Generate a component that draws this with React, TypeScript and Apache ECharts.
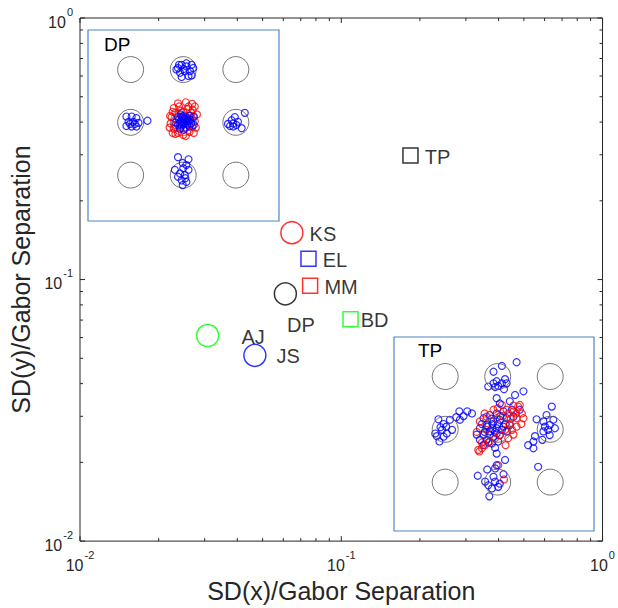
import React, { useEffect, useRef } from "react";
import * as echarts from "echarts";

// ---- main scatter data ----
const subjects = ["TP", "KS", "EL", "MM", "DP", "BD", "AJ", "JS"];
const sdX = [0.184, 0.0647, 0.0749, 0.076, 0.0611, 0.1085, 0.0308, 0.0467];
const sdY = [0.298, 0.151, 0.12, 0.0946, 0.0882, 0.0705, 0.0611, 0.0513];
const colors = ["#000000", "#ff0000", "#0000ff", "#ff0000", "#000000", "#00ff00", "#00ff00", "#0000ff"];
const shapes = ["rect", "circle", "rect", "rect", "circle", "rect", "circle", "circle"];

// axis ticks (log axis)
const majorTicks = [0.01, 0.1, 1];
const minorTicks = [0.02, 0.03, 0.04, 0.05, 0.06, 0.07, 0.08, 0.09, 0.2, 0.3, 0.4, 0.5, 0.6, 0.7, 0.8, 0.9];

// ---- inset reference grid (units of Gabor separation) ----
const gaborGrid = [
  [-1, 1], [0, 1], [1, 1],
  [-1, 0], [0, 0], [1, 0],
  [-1, -1], [0, -1], [1, -1],
];

// DP inset
const dpBlueTop = [
  [-0.1, 1.03], [-0.03, 1.09], [0.06, 1.06], [0.16, 1.09], [0.19, 1.03], [0.13, 0.97], [0.03, 0.97],
  [-0.06, 0.94], [-0.13, 1.0], [-0.03, 0.86], [0.1, 0.88], [0.16, 0.89], [0.01, 1.01], [-0.08, 1.09], [0.06, 1.12],
];
const dpBlueLeft = [
  [-1.08, 0.11], [-0.98, 0.11], [-0.89, 0.08], [-1.04, 0.01], [-0.95, 0.01], [-0.85, -0.01],
  [-1.08, -0.07], [-0.98, -0.08], [-0.89, -0.08], [-0.68, 0.03], [-1.01, -0.03], [-0.92, -0.03],
];
const dpBlueRight = [
  [0.85, -0.03], [0.92, 0.04], [0.98, 0.1], [1.01, -0.05], [0.89, -0.07], [0.95, -0.08], [1.04, 0.01],
  [1.17, 0.18], [1.11, -0.11], [0.95, -0.02],
];
const dpBlueBottom = [
  [-0.1, -0.66], [0.1, -0.7], [-0.01, -0.77], [0.06, -0.81], [-0.16, -0.9], [0.0, -0.87], [0.1, -0.9],
  [-0.06, -0.97], [0.03, -1.0], [-0.03, -1.1], [0.06, -1.13], [-0.01, -1.19], [-0.1, -1.03], [0.04, -1.06],
];
const dpRedCenter = [
  [-0.22, 0.1], [-0.15, 0.18], [-0.05, 0.22], [0.08, 0.25], [0.18, 0.24], [0.2, 0.12], [0.22, 0.02],
  [-0.24, -0.02], [-0.18, -0.12], [-0.1, -0.2], [0.0, -0.24], [0.12, -0.18], [0.17, -0.08], [-0.12, 0.05],
  [0.05, 0.1], [0.1, -0.05], [-0.05, -0.1], [-0.2, 0.2], [0.15, 0.18], [-0.15, -0.22],
  [-0.25, 0.12], [0.24, -0.1], [-0.18, 0.27], [0.1, 0.3], [0.26, 0.15], [-0.26, -0.1], [-0.2, -0.2],
  [0.05, -0.26], [0.2, -0.2], [0.22, 0.3], [-0.08, 0.3], [0.0, 0.2], [-0.15, -0.05], [0.12, 0.06],
  [-0.1, 0.36], [0.05, 0.38], [0.17, 0.35],
];
const dpBlueCenter = [
  [-0.08, 0.05], [0.02, 0.0], [0.06, 0.06], [-0.03, -0.06], [0.1, 0.02], [-0.1, -0.05], [0.0, 0.12],
  [0.05, -0.1], [0.12, 0.12], [-0.05, 0.15], [0.15, -0.02], [0.03, 0.04], [-0.02, 0.08], [0.08, -0.04],
  [0.2, 0.1], [0.2, -0.05], [-0.15, 0.0],
  [-0.05, 0.02], [0.04, -0.02], [0.0, -0.04], [-0.07, -0.02], [0.07, 0.03], [0.02, 0.07], [-0.03, 0.11],
  [0.09, 0.08], [-0.1, 0.1], [0.12, -0.08], [-0.06, -0.12], [0.01, -0.14], [0.14, 0.05],
];

// TP inset
const tpBlueTop = [
  [0.08, 1.2], [0.36, 1.27], [-0.08, 1.09], [0.14, 0.95], [-0.02, 0.91], [0.08, 0.87], [-0.08, 0.87],
  [0.17, 0.87], [-0.18, 0.81], [0.01, 0.82], [0.12, 0.76], [-0.05, 0.8], [0.49, 0.72], [0.33, 0.65],
  [-0.02, 0.59], [0.23, 0.53], [0.04, 0.49],
];
const tpBlueLeft = [
  [-1.13, 0.19], [-0.73, 0.34], [-0.58, 0.34], [-0.49, 0.3], [-0.65, 0.25], [-0.79, 0.23], [-0.91, 0.18],
  [-1.03, 0.1], [-1.09, 0.04], [-0.98, 0.05], [-0.87, -0.01], [-1.06, -0.01], [-0.97, -0.08], [-1.16, -0.13],
  [-1.03, -0.14], [-1.11, -0.23], [-1.19, -0.08], [-0.72, 0.18],
];
const tpBlueRight = [
  [1.03, 0.43], [0.93, 0.27], [1.06, 0.18], [0.87, 0.15], [0.99, 0.08], [0.9, 0.05], [1.09, 0.02],
  [0.96, -0.01], [0.87, -0.04], [0.99, -0.11], [0.85, -0.2], [0.71, -0.13], [0.68, -0.23], [0.58, -0.3],
  [0.68, -0.36], [0.77, -0.71], [0.74, 0.19],
];
const tpBlueBottom = [
  [-0.02, -0.46], [0.14, -0.58], [-0.02, -0.68], [-0.2, -0.76], [-0.38, -0.88], [-0.08, -0.9], [0.11, -0.85],
  [-0.24, -0.99], [-0.05, -0.99], [0.04, -1.03], [-0.18, -1.06], [0.01, -1.09], [-0.11, -1.12], [-0.16, -1.27],
  [-0.05, -0.74],
];
const tpRedCenter = [
  [-0.35, -0.42], [-0.3, -0.36], [-0.24, -0.3], [-0.15, -0.23], [-0.05, -0.17], [0.04, -0.11], [0.2, -0.17],
  [0.14, -0.01], [0.23, 0.11], [0.36, 0.21], [0.46, 0.3], [0.39, 0.43], [0.08, 0.46], [0.17, 0.37],
  [0.3, 0.34], [0.49, 0.21], [-0.08, 0.37], [-0.21, 0.24], [-0.34, 0.15], [0.27, -0.01], [0.01, -0.68],
  [0.12, -0.95], [-0.21, -0.01], [0.36, 0.05], [-0.02, 0.21],
  [0.42, 0.46], [0.3, 0.45], [0.2, 0.3], [0.35, 0.3], [0.25, 0.2], [0.1, 0.25], [-0.37, -0.39],
  [-0.3, -0.25], [-0.4, -0.05], [0.15, -0.3], [0.3, -0.1], [0.45, 0.1], [-0.25, 0.3], [0.0, 0.4],
];
const tpBlueCenter = [
  [-0.27, 0.21], [-0.15, 0.27], [-0.02, 0.3], [0.11, 0.34], [0.27, 0.37], [0.42, 0.37], [-0.34, 0.02],
  [-0.21, 0.08], [-0.08, 0.15], [0.04, 0.18], [0.17, 0.21], [0.3, 0.24], [-0.27, -0.11], [-0.15, -0.04],
  [-0.02, 0.02], [0.11, 0.05], [0.23, 0.08], [-0.21, -0.2], [-0.08, -0.14], [0.04, -0.11], [0.17, -0.04],
  [-0.27, -0.3], [-0.11, -0.27], [0.01, -0.23], [-0.34, -0.2], [-0.02, -0.08], [0.08, -0.01],
  [-0.2, 0.05], [-0.1, 0.1], [-0.15, -0.1], [-0.05, -0.05], [0.0, 0.1], [-0.25, -0.05], [-0.12, 0.2],
  [-0.3, 0.1], [0.05, 0.25], [-0.18, -0.25], [-0.05, -0.35], [-0.4, -0.1], [0.15, 0.1], [-0.1, 0.0],
];

const FONT = "Liberation Sans, Arial, Helvetica, sans-serif";
const AXIS_COLOR = "#262626";
const INSET_BORDER = "#4f86c6";

function labelDistance(name: string): number {
  if (name === "AJ") return 22;
  if (name === "JS") return 10;
  if (name === "BD") return 2;
  return 6;
}

export default function App() {
  const ref = useRef<HTMLDivElement>(null);

  useEffect(() => {
    document.body.style.margin = "0";
    if (!ref.current) return;
    const chart = echarts.init(ref.current, undefined, { renderer: "svg" });

    const mainData = subjects.map((name, i) => {
      const isDP = name === "DP";
      return {
        name,
        value: [sdX[i], sdY[i]],
        symbol: shapes[i],
        symbolSize: shapes[i] === "circle" ? 22 : 15,
        itemStyle: { color: "rgba(0,0,0,0)", borderColor: colors[i], borderWidth: 1.5 },
        label: {
          show: true,
          position: "right",
          distance: isDP ? 0 : labelDistance(name),
          offset: isDP ? [-10, 31] : [0, 1],
          formatter: name,
          color: "#000",
          fontSize: 20,
          fontFamily: FONT,
        },
      };
    });

    const tickData = [
      ...majorTicks.map((v) => [v, v, 1]),
      ...minorTicks.map((v) => [v, v, 0]),
    ];

    const logLabel = {
      formatter: (v: number) => {
        const e = Math.round(Math.log10(v));
        return `{b|10}{s|${e}}`;
      },
      rich: {
        b: { fontSize: 16, fontFamily: FONT, color: AXIS_COLOR, lineHeight: 24, verticalAlign: "bottom" },
        s: { fontSize: 11, fontFamily: FONT, color: AXIS_COLOR, lineHeight: 10, verticalAlign: "top", padding: [0, 0, 0, 1] },
      },
    };

    const circleStyle = { color: "rgba(0,0,0,0)", borderColor: "#555555", borderWidth: 1 };
    const pt = (color: string) => ({ color: "rgba(0,0,0,0)", borderColor: color, borderWidth: 1.2 });

    const insetSeries = (idx: number, groups: { data: number[][]; color: string }[], circlesOnTop: boolean) => {
      const s: any[] = [];
      s.push({
        type: "scatter",
        xAxisIndex: idx,
        yAxisIndex: idx,
        data: gaborGrid,
        symbol: "circle",
        symbolSize: 26,
        itemStyle: circleStyle,
        silent: true,
        z: circlesOnTop ? 5 : 2,
      });
      groups.forEach((g) =>
        s.push({
          type: "scatter",
          xAxisIndex: idx,
          yAxisIndex: idx,
          data: g.data,
          symbol: "circle",
          symbolSize: 7,
          itemStyle: pt(g.color),
          silent: true,
          z: 3,
        })
      );
      return s;
    };

    const option: any = {
      animation: false,
      backgroundColor: "#ffffff",
      textStyle: { fontFamily: FONT },
      grid: [
        { left: 80, top: 18, width: 526, height: 526, show: true, borderColor: AXIS_COLOR, borderWidth: 1, backgroundColor: "#fff" },
        { left: 88, top: 30, width: 191, height: 191, show: true, borderColor: INSET_BORDER, borderWidth: 1.2, backgroundColor: "#fff", z: 1 },
        { left: 394, top: 337, width: 200, height: 194, show: true, borderColor: INSET_BORDER, borderWidth: 1.2, backgroundColor: "#fff", z: 1 },
      ],
      xAxis: [
        {
          type: "log",
          logBase: 10,
          min: 0.01,
          max: 1,
          gridIndex: 0,
          axisLine: { show: false },
          axisTick: { show: false },
          splitLine: { show: false },
          axisLabel: { ...logLabel, margin: 8 },
          name: "SD(x)/Gabor Separation",
          nameLocation: "middle",
          nameGap: 34,
          nameTextStyle: { fontSize: 25, fontFamily: FONT, color: AXIS_COLOR },
        },
        { type: "value", gridIndex: 1, min: -1.81, max: 1.82, show: false },
        { type: "value", gridIndex: 2, min: -1.975, max: 1.834, show: false },
      ],
      yAxis: [
        {
          type: "log",
          logBase: 10,
          min: 0.01,
          max: 1,
          gridIndex: 0,
          axisLine: { show: false },
          axisTick: { show: false },
          splitLine: { show: false },
          axisLabel: { ...logLabel, margin: 7 },
          name: "SD(y)/Gabor Separation",
          nameLocation: "middle",
          nameGap: 41,
          nameTextStyle: { fontSize: 25, fontFamily: FONT, color: AXIS_COLOR },
        },
        { type: "value", gridIndex: 1, min: -1.87, max: 1.75, show: false },
        { type: "value", gridIndex: 2, min: -1.926, max: 1.748, show: false },
      ],
      graphic: [
        { type: "text", left: 104, top: 35, style: { text: "DP", font: `19px ${FONT}`, fill: "#000" }, z: 10 },
        { type: "text", left: 418, top: 341, style: { text: "TP", font: `19px ${FONT}`, fill: "#000" }, z: 10 },
      ],
      series: [
        {
          type: "custom",
          xAxisIndex: 0,
          yAxisIndex: 0,
          data: tickData,
          clip: false,
          silent: true,
          z: 1,
          renderItem: (params: any, api: any) => {
            const v = api.value(0);
            const major = api.value(2) === 1;
            const cs = params.coordSys;
            const p = api.coord([v, v]);
            const len = major ? 5 : 3;
            const st = { stroke: AXIS_COLOR, lineWidth: 1 };
            const bottom = cs.y + cs.height;
            const right = cs.x + cs.width;
            return {
              type: "group",
              children: [
                { type: "line", shape: { x1: p[0], y1: bottom, x2: p[0], y2: bottom - len }, style: st },
                { type: "line", shape: { x1: p[0], y1: cs.y, x2: p[0], y2: cs.y + len }, style: st },
                { type: "line", shape: { x1: cs.x, y1: p[1], x2: cs.x + len, y2: p[1] }, style: st },
                { type: "line", shape: { x1: right, y1: p[1], x2: right - len, y2: p[1] }, style: st },
              ],
            };
          },
        },
        {
          type: "scatter",
          xAxisIndex: 0,
          yAxisIndex: 0,
          data: mainData,
          z: 4,
        },
        ...insetSeries(
          1,
          [
            { data: dpRedCenter, color: "#ff0000" },
            { data: dpBlueCenter, color: "#0000ff" },
            { data: dpBlueTop, color: "#0000ff" },
            { data: dpBlueLeft, color: "#0000ff" },
            { data: dpBlueRight, color: "#0000ff" },
            { data: dpBlueBottom, color: "#0000ff" },
          ],
          false
        ),
        ...insetSeries(
          2,
          [
            { data: tpBlueCenter, color: "#0000ff" },
            { data: tpRedCenter, color: "#ff0000" },
            { data: tpBlueTop, color: "#0000ff" },
            { data: tpBlueLeft, color: "#0000ff" },
            { data: tpBlueRight, color: "#0000ff" },
            { data: tpBlueBottom, color: "#0000ff" },
          ],
          true
        ),
      ],
    };

    chart.setOption(option);
    return () => chart.dispose();
  }, []);

  return <div ref={ref} style={{ width: 618, height: 608 }} />;
}
